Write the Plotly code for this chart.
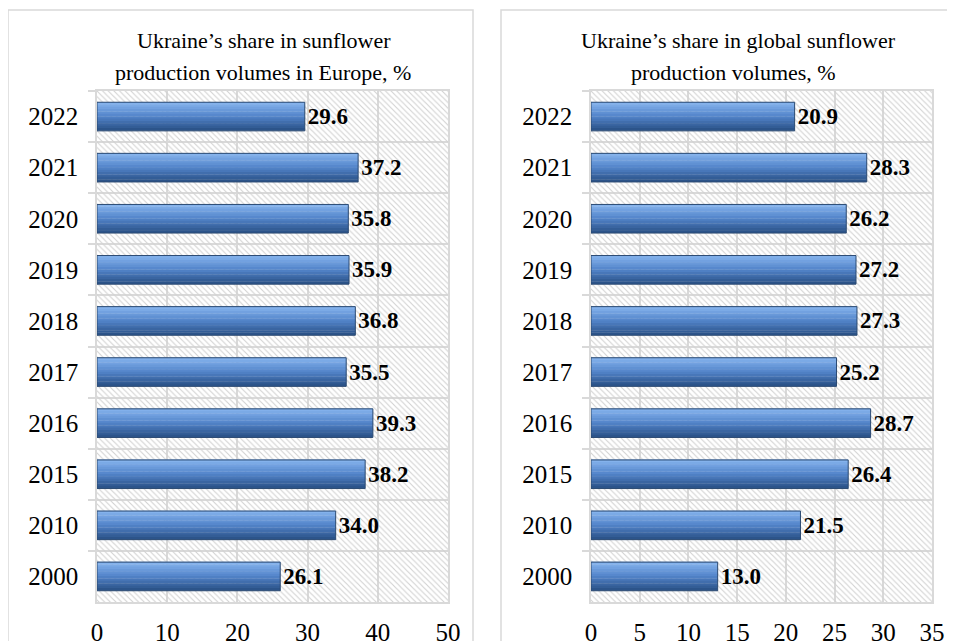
import plotly.graph_objects as go
from plotly.subplots import make_subplots

W, H = 955, 641
OFF = 8  # page body margin shifts the figure by 8px

YEARS = ["2000", "2010", "2015", "2016", "2017", "2018", "2019", "2020", "2021", "2022"]
EUROPE_SHARE = [26.1, 34.0, 38.2, 39.3, 35.5, 36.8, 35.9, 35.8, 37.2, 29.6]
GLOBAL_SHARE = [13.0, 21.5, 26.4, 28.7, 25.2, 27.3, 27.2, 26.2, 28.3, 20.9]

EUROPE_MAX, EUROPE_STEP = 50, 10
GLOBAL_MAX, GLOBAL_STEP = 35, 5

TITLE_LEFT = ["Ukraine’s share in sunflower", "production volumes in Europe, %"]
TITLE_RIGHT = ["Ukraine’s share in global sunflower", "production volumes, %"]

FONT = "Liberation Serif"
GRID = "#d9d9d9"
OUTLINE = "#2b4a72"
BAR_W = 0.56
N_STRIPS = 12

# light top -> dark bottom, mimics the bevelled Excel bar
TOP_RGB = (132, 178, 236)
MID_RGB = (82, 132, 202)
BOT_RGB = (44, 84, 138)


def _mix(a, b, t):
    return tuple(round(a[i] + (b[i] - a[i]) * t) for i in range(3))


def _strip_color(i):
    t = i / (N_STRIPS - 1)
    if t < 0.5:
        c = _mix(TOP_RGB, MID_RGB, t / 0.5)
    else:
        c = _mix(MID_RGB, BOT_RGB, (t - 0.5) / 0.5)
    return "rgb(%d,%d,%d)" % c


def px(x):
    return (x - OFF) / W


def py(y):
    return 1 - (y - OFF) / H


def add_panel(fig, values, x_max, col):
    n = len(YEARS)
    # hatched plot background
    fig.add_trace(go.Bar(
        y=YEARS, x=[x_max] * n, orientation="h", width=1.0,
        marker=dict(color="rgba(0,0,0,0)", line=dict(width=0),
                    pattern=dict(shape="\\", fgcolor="#d2d2d2", bgcolor="rgba(0,0,0,0)",
                                 size=4, solidity=0.28, fillmode="replace")),
        hoverinfo="skip", showlegend=False,
    ), row=1, col=col)

    s = BAR_W / N_STRIPS
    for i in range(N_STRIPS):
        fig.add_trace(go.Bar(
            y=YEARS, x=values, orientation="h",
            width=s * 1.15, offset=BAR_W / 2 - (i + 1) * s,
            marker=dict(color=_strip_color(i), line=dict(width=0)),
            hoverinfo="skip", showlegend=False,
        ), row=1, col=col)

    # outline + value labels
    fig.add_trace(go.Bar(
        y=YEARS, x=values, orientation="h", width=BAR_W,
        marker=dict(color="rgba(0,0,0,0)", line=dict(color=OUTLINE, width=1)),
        text=values, texttemplate="<b>%{x:.1f}</b>", textposition="outside",
        textfont=dict(family=FONT, size=23, color="black"),
        cliponaxis=False, showlegend=False,
    ), row=1, col=col)


fig = make_subplots(rows=1, cols=2)
add_panel(fig, EUROPE_SHARE, EUROPE_MAX, 1)
add_panel(fig, GLOBAL_SHARE, GLOBAL_MAX, 2)

y_dom = [py(602), py(91)]
fig.update_layout(
    width=W, height=H, barmode="overlay",
    paper_bgcolor="white", plot_bgcolor="white",
    margin=dict(l=0, r=0, t=0, b=0),
    font=dict(family=FONT, color="black"),
    xaxis=dict(domain=[px(97), px(448)], range=[0, EUROPE_MAX], dtick=EUROPE_STEP),
    xaxis2=dict(domain=[px(591), px(932)], range=[0, GLOBAL_MAX], dtick=GLOBAL_STEP),
    yaxis=dict(domain=y_dom),
    yaxis2=dict(domain=y_dom),
)
fig.update_xaxes(
    showgrid=True, gridcolor=GRID, gridwidth=1.5, zeroline=False,
    showline=True, linecolor=GRID, linewidth=1.5, mirror=True,
    ticks="", ticklabelstandoff=7, automargin=False,
    tickfont=dict(family=FONT, size=25, color="black"),
)
fig.update_yaxes(
    type="category", categoryorder="array", categoryarray=YEARS,
    range=[-0.5, len(YEARS) - 0.5],
    tickson="boundaries", ticks="outside", ticklen=7, tickcolor=GRID, tickwidth=1.5,
    showgrid=True, gridcolor=GRID, gridwidth=1.5,
    showline=True, linecolor=GRID, linewidth=1.5, mirror=True,
    ticklabelstandoff=12, automargin=False,
    tickfont=dict(family=FONT, size=25, color="black"),
)

# panel frames
for x0, x1 in [(8, 473), (501, 1000)]:
    fig.add_shape(type="rect", xref="paper", yref="paper",
                  x0=px(x0), x1=px(x1), y0=-0.2, y1=py(10),
                  line=dict(color=GRID, width=1.5), fillcolor="rgba(0,0,0,0)", layer="below")

for lines, centers in [(TITLE_LEFT, (264, 263)), (TITLE_RIGHT, (738, 733))]:
    for txt, cx, cy in zip(lines, centers, (40, 72)):
        fig.add_annotation(text=txt, xref="paper", yref="paper",
                           x=px(cx), y=py(cy), xanchor="center", yanchor="middle",
                           showarrow=False, font=dict(family=FONT, size=22, color="black"))

fig.write_html("out.html")
